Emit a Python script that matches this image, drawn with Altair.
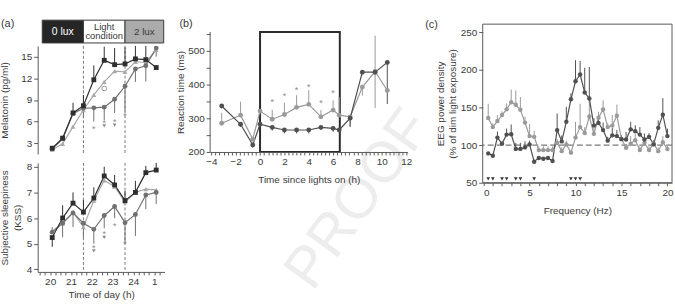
import altair as alt
import pandas as pd

FONT = "Liberation Sans"
INK = "#3a3a3a"
AXIS = "#595959"
MARK = "#8a8a8a"

# ---------------- (a) melatonin and subjective sleepiness ----------------
clock_h = [20.1, 20.6, 21.1, 21.6, 22.1, 22.6, 23.1, 23.6, 24.1, 24.6, 25.1]

mel_dark = [2.3, 3.7, 7.2, 8.2, 11.8, 14.5, 13.9, 14.0, 14.7, 14.6, 13.5]
mel_light = [2.2, 3.6, 7.1, 7.85, 7.9, 8.0, 9.1, 10.9, 13.3, 13.75, 16.2]
mel_dim = [2.1, 2.9, 5.3, 7.6, 9.7, 11.5, 13.0, 12.9, 14.3, 14.2, 16.0]
mel_dark_err = [0, 0.3, 1.4, 1.5, 2.0, 1.9, 2.3, 2.3, 1.8, 1.9, 0]
mel_light_err = [0, 0, 0, -1.3, -1.9, -1.8, -1.9, -3.5, -1.8, -2.2, -1.2]
mel_dim_err = [0, 0, 0, 0, 0, 0, 0, 0, 0, 0, 0]

kss_dark = [5.24, 6.0, 6.58, 6.23, 6.78, 7.64, 7.29, 6.68, 7.0, 7.77, 7.87]
kss_light = [5.45, 5.8, 6.2, 5.8, 5.56, 6.1, 6.45, 5.82, 6.14, 6.9, 7.0]
kss_dim = [5.5, 5.78, 6.23, 5.65, 6.68, 7.47, 7.22, 6.62, 7.0, 7.13, 7.1]
kss_dark_err = [-0.36, 0.5, 0.42, 0.47, 0.42, 0.36, 0.39, 0.38, 0.45, 0.26, 0.28]
kss_light_err = [0.2, -0.55, -0.55, -0.56, -0.56, -0.5, -0.45, -0.82, -0.84, -0.55, -0.45]
kss_dim_err = [0, 0, 0, 0, 0, 0, 0, 0, 0, 0, 0]

mel_star_h = [22.1, 22.6, 23.1, 23.6]
mel_star_v = [5.3, 6.1, 6.2, 7.0]
mel_tri_h = [22.6, 23.1]
mel_tri_v = [5.4, 5.5]
mel_ring_h = [22.6]
mel_ring_v = [10.6]
kss_star_h = [22.1, 22.6, 23.1, 23.6]
kss_star_v = [4.92, 5.47, 5.77, 5.05]
kss_tri_h = [22.1, 22.6]
kss_tri_v = [4.72, 5.25]

phase_start = [19.62, 21.6, 23.6]
phase_end = [21.6, 23.6, 25.46]
phase_label = ["0 lux", "Light\ncondition", "2 lux"]
phase_fill = ["#262626", "#ffffff", "#ababab"]
phase_ink = ["#ffffff", "#3a3a3a", "#3a3a3a"]
phase_size = [10.5, 9.5, 10]
light_switch_h = [21.6, 23.6]

# ---------------- (b) reaction time ----------------
rt_h = [-3.15, -1.6, -0.6, 0.0, 1.0, 2.0, 3.0, 4.0, 5.0, 6.0, 6.5, 7.4, 8.4, 9.45, 10.45]
rt_dark = [336, 282, 221, 282, 273, 265, 265, 265, 273, 270, 265, 300, 436, 436, 465]
rt_light = [285, 309, 238, 321, 297, 311, 332, 341, 304, 324, 309, 304, 392, 438, 382]
rt_dark_lo = [0, -8, -8, 0, -10, -10, -10, -10, -8, -10, 0, -25, 0, 0, -123]
rt_dark_hi = [0, 0, 0, 0, 0, 0, 0, 0, 0, 0, 0, 0, 0, 0, 0]
rt_light_lo = [0, 0, 0, 0, 0, 0, 0, 0, 0, 0, 0, -30, -25, -108, 0]
rt_light_hi = [31, 40, 0, 0, 28, 35, 36, 42, 20, 29, 54, 0, 0, 106, 0]
rt_star_h = [1, 2, 3, 4, 5, 6]
rt_star_v = [353, 371, 389, 399, 352, 381]
lights_on_box = {"x": [0.0], "x2": [6.55], "y": [200], "y2": [555]}
rt_axis_span = {"x": [-4.1], "y": [200], "y2": [555]}

# ---------------- (c) EEG power density ----------------
freq_hz = [0.5, 1.0, 1.5, 2.0, 2.5, 3.0, 3.5, 4.0, 4.5, 5.0,
           5.5, 6.0, 6.5, 7.0, 7.5, 8.0, 8.5, 9.0, 9.5, 10.0,
           10.5, 11.0, 11.5, 12.0, 12.5, 13.0, 13.5, 14.0, 14.5, 15.0,
           15.5, 16.0, 16.5, 17.0, 17.5, 18.0, 18.5, 19.0, 19.5, 20.0]
eeg_dark = [89, 86, 110, 102, 114, 114.5, 95, 95, 97, 101,
            78, 83, 82, 83, 79, 120, 105, 131, 161, 185,
            194, 170, 162, 126, 129.5, 120, 106, 113, 112, 108,
            107.5, 121, 118.5, 114, 107.5, 111, 101, 123, 140.5, 112]
eeg_light = [136, 124, 132, 140, 147.6, 157, 153.7, 147, 130, 112,
             111, 93.4, 93.4, 93.4, 93.4, 103, 92, 101, 90, 110,
             124, 116, 138, 115, 136.5, 147.6, 124, 126, 139, 108,
             96.5, 102, 106.6, 93.4, 103, 93.4, 102, 92, 104, 94.7]
eeg_dark_err = [0, 0, 8, 0, 8, 13, 8, 8, 8, 5,
                0, 0, 0, 0, 0, 22, 8, 20, 8, 28,
                18, 33, 42, 10, 8, 10, 5, 10, 8, 5,
                10, 10, 8, 10, 8, 5, 5, 10, 22, 10]
eeg_light_err = [19, 5, 8, 5, 8, 17, 19, 17, 8, 16,
                 8, 5, 5, 5, 5, 5, 5, 5, 0, 21,
                 31, 8, 28, 8, 8, 12, 5, 14, 15, 5,
                 5, 10, 8, 5, 5, 5, 5, 5, 8, 5]
eeg_sig_hz = [0.5, 1.0, 2.0, 2.5, 3.5, 4.0, 5.5, 9.5, 10.0, 10.5]
eeg_sig_v = [55] * len(eeg_sig_hz)
eeg_reference = [100]
eeg_frame = {"x": [-0.1], "x2": [20.5], "y": [50], "y2": [261]}


def series_frame(xs, series):
    """series: list of (name, values, colour, shape)."""
    rows = []
    for name, vals, col, shp in series:
        for xv, yv in zip(xs, vals):
            rows.append(dict(x=xv, y=yv, s=name, col=col, shp=shp))
    return pd.DataFrame(rows)


def error_frame(xs, bars):
    """bars: list of (values, lower offsets, upper offsets, colour)."""
    rows = []
    for vals, lo, hi, col in bars:
        for xv, yv, a, b in zip(xs, vals, lo, hi):
            if a != 0 or b != 0:
                rows.append(dict(x=xv, y0=yv + a, y1=yv + b, col=col))
    return pd.DataFrame(rows)


def split(errs):
    lo = [min(e, 0) for e in errs]
    hi = [max(e, 0) for e in errs]
    return lo, hi


def plot_layers(pts, errs, X, Y, Y0, size, width=1.2):
    c = alt.Color("col:N", scale=None)
    rules = alt.Chart(errs).mark_rule(strokeWidth=1).encode(x=X, y=Y0, y2="y1:Q", color=c)
    lines = alt.Chart(pts).mark_line(strokeWidth=width).encode(x=X, y=Y, color=c, detail="s:N")
    dots = alt.Chart(pts).mark_point(filled=True, opacity=1, size=size).encode(
        x=X, y=Y, color=c, shape=alt.Shape("shp:N", scale=None))
    return [rules, lines, dots]


def stars(xs, vs, X, Y, size=9):
    df = pd.DataFrame({"x": xs, "y": vs, "t": ["*"] * len(xs)})
    return alt.Chart(df).mark_text(font=FONT, fontSize=size, color=MARK, dy=2).encode(x=X, y=Y, text="t:N")


def tris(xs, vs, X, Y, colour=MARK, size=14):
    df = pd.DataFrame({"x": xs, "y": vs})
    return alt.Chart(df).mark_point(shape="triangle-down", filled=True, opacity=1,
                                    size=size, color=colour).encode(x=X, y=Y)


def panel_tag(text, dx, dy):
    df = pd.DataFrame({"t": [text]})
    return alt.Chart(df).mark_text(font=FONT, fontSize=11, color=INK, align="left").encode(
        x=alt.value(dx), y=alt.value(dy), text="t:N")


C_DARK, C_LIGHT, C_DIM = "#2e2e2e", "#707070", "#a8a8a8"

# ---- (a) ----
xa_scale = alt.Scale(domain=[19.4, 25.5], nice=False, zero=False)
quarter_ticks = [k / 4 for k in range(78, 102)]
XA_hidden = alt.X("x:Q", scale=xa_scale, axis=None)
XA_axis = alt.X("x:Q", scale=xa_scale, axis=alt.Axis(
    values=quarter_ticks, tickSize=3,
    labelExpr="datum.value % 1 == 0 ? (datum.value > 24 ? datum.value - 24 : datum.value) + '' : ''",
    title="Time of day (h)", titleX=64, titleY=26, titleBaseline="alphabetic",
    titleAlign="center", titleAngle=0))

phase_df = pd.DataFrame({"x": phase_start, "x2": phase_end,
                         "mid": [(a + b) / 2 for a, b in zip(phase_start, phase_end)],
                         "label": phase_label, "fill": phase_fill, "ink": phase_ink,
                         "fs": phase_size,
                         "lines": [lab.count("\n") + 1 for lab in phase_label]})
phase_rect = alt.Chart(phase_df).mark_rect(stroke=INK, strokeWidth=1).encode(
    x=XA_hidden, x2="x2:Q", y=alt.value(0), y2=alt.value(23),
    fill=alt.Fill("fill:N", scale=None))
phase_enc = dict(x=alt.X("mid:Q", scale=xa_scale, axis=None), text="label:N",
                 color=alt.Color("ink:N", scale=None), size=alt.Size("fs:Q", scale=None))
phase_text_one = alt.Chart(phase_df).transform_filter("datum.lines == 1").mark_text(
    font=FONT).encode(y=alt.value(11.5), **phase_enc)
phase_text_two = alt.Chart(phase_df).transform_filter("datum.lines == 2").mark_text(
    font=FONT, lineBreak="\n", lineHeight=10).encode(y=alt.value(6.5), **phase_enc)
phase_bar = alt.layer(phase_rect, phase_text_one, phase_text_two,
                      panel_tag("(a)", -37, 4)).properties(width=128, height=23)

switch_df = pd.DataFrame({"x": light_switch_h})


def switch_rules(X):
    return alt.Chart(switch_df).mark_rule(color="#7a7a7a", strokeDash=[3, 2], strokeWidth=1).encode(x=X)


mel_scale = alt.Scale(domain=[1.5, 16.5], nice=False, zero=False)
mel_axis = alt.Axis(values=[3, 6, 9, 12, 15], title="Melatonin (pg/ml)", titleX=-30, titleY=54.5,
                    titleAngle=270, titleAlign="center", titleBaseline="alphabetic")
Y_mel = alt.Y("y:Q", scale=mel_scale, axis=mel_axis)
Y0_mel = alt.Y("y0:Q", scale=mel_scale, axis=mel_axis)
mel_pts = series_frame(clock_h, [("2 lux", mel_dim, C_DIM, "triangle-up"),
                                 ("light", mel_light, C_LIGHT, "circle"),
                                 ("0 lux", mel_dark, C_DARK, "square")])
mel_err = error_frame(clock_h, [(mel_dim, *split(mel_dim_err), C_DIM),
                                (mel_light, *split(mel_light_err), C_LIGHT),
                                (mel_dark, *split(mel_dark_err), C_DARK)])
ring_df = pd.DataFrame({"x": mel_ring_h, "y": mel_ring_v})
ring = alt.Chart(ring_df).mark_point(shape="circle", filled=False, size=22, color="#6a6a6a",
                                     strokeWidth=1).encode(x=XA_hidden, y=Y_mel)
melatonin = alt.layer(
    switch_rules(XA_hidden),
    *plot_layers(mel_pts, mel_err, XA_hidden, Y_mel, Y0_mel, 24),
    stars(mel_star_h, mel_star_v, XA_hidden, Y_mel),
    tris(mel_tri_h, mel_tri_v, XA_hidden, Y_mel),
    ring,
).properties(width=128, height=109)

kss_scale = alt.Scale(domain=[3.9, 8.15], nice=False, zero=False)
kss_axis = alt.Axis(values=[4, 5, 6, 7, 8], title=["Subjective sleepiness", "(KSS)"],
                    titleX=-30, titleY=55, titleAngle=270, titleAlign="center",
                    titleBaseline="alphabetic", titleLineHeight=13)
Y_kss = alt.Y("y:Q", scale=kss_scale, axis=kss_axis)
Y0_kss = alt.Y("y0:Q", scale=kss_scale, axis=kss_axis)
kss_pts = series_frame(clock_h, [("2 lux", kss_dim, C_DIM, "triangle-up"),
                                 ("light", kss_light, C_LIGHT, "circle"),
                                 ("0 lux", kss_dark, C_DARK, "square")])
kss_err = error_frame(clock_h, [(kss_dim, *split(kss_dim_err), C_DIM),
                                (kss_light, *split(kss_light_err), C_LIGHT),
                                (kss_dark, *split(kss_dark_err), C_DARK)])
sleepiness = alt.layer(
    switch_rules(XA_axis),
    *plot_layers(kss_pts, kss_err, XA_axis, Y_kss, Y0_kss, 24),
    stars(kss_star_h, kss_star_v, XA_axis, Y_kss),
    tris(kss_tri_h, kss_tri_v, XA_axis, Y_kss),
).properties(width=128, height=110)

panel_a = alt.vconcat(
    alt.vconcat(phase_bar, melatonin, spacing=1).resolve_scale(x="independent", y="independent"),
    sleepiness, spacing=6,
).resolve_scale(x="independent", y="independent")

# ---- (b) ----
B_DARK, B_LIGHT = "#505050", "#9a9a9a"
xb_scale = alt.Scale(domain=[-4.1, 12.1], nice=False, zero=False)
third_ticks = [round(-4 + k / 3, 4) for k in range(0, 49)]
XB = alt.X("x:Q", scale=xb_scale, axis=alt.Axis(
    values=third_ticks, tickSize=3, zindex=1,
    labelExpr="abs(datum.value - round(datum.value)) < 0.001 && round(datum.value) % 2 == 0 ? format(round(datum.value), 'd') : ''",
    title="Time since lights on (h)", titleX=99.5, titleY=31, titleBaseline="alphabetic",
    titleAlign="center", titleAngle=0))
yb_scale = alt.Scale(domain=[200, 590], nice=False, zero=False)
yb_axis = alt.Axis(values=[200, 250, 300, 350, 400, 450, 500, 550], domain=False, zindex=1,
                   labelExpr="datum.value % 100 == 0 && datum.value <= 500 ? datum.label : ''",
                   title="Reaction time (ms)", titleX=-27, titleY=72.5, titleAngle=270,
                   titleAlign="center", titleBaseline="alphabetic")
YB = alt.Y("y:Q", scale=yb_scale, axis=yb_axis)
YB0 = alt.Y("y0:Q", scale=yb_scale, axis=yb_axis)
rt_pts = series_frame(rt_h, [("light", rt_light, B_LIGHT, "circle"),
                             ("dark", rt_dark, B_DARK, "circle")])
rt_err = error_frame(rt_h, [(rt_light, rt_light_lo, rt_light_hi, B_LIGHT),
                            (rt_dark, rt_dark_lo, rt_dark_hi, B_DARK)])
rt_spine = alt.Chart(pd.DataFrame(rt_axis_span)).mark_rule(color=AXIS, strokeWidth=1).encode(
    x=XB, y=YB, y2="y2:Q")
box = alt.Chart(pd.DataFrame(lights_on_box)).mark_rect(
    fillOpacity=0, stroke="#2b2b2b", strokeWidth=2).encode(
    x=XB, x2="x2:Q", y=YB, y2="y2:Q")
# faint diagonal "PROOF" stamp behind the middle panel
watermark = alt.Chart(pd.DataFrame({"t": ["PROOF"]})).mark_text(
    font=FONT, fontSize=58, color="#ededed", angle=306).encode(
    x=alt.value(150), y=alt.value(181), text="t:N")
reaction = alt.layer(
    watermark,
    rt_spine,
    box,
    *plot_layers(rt_pts, rt_err, XB, YB, YB0, 24),
    stars(rt_star_h, rt_star_v, XB, YB),
    panel_tag("(b)", -31, 4),
).properties(width=199, height=133)

# ---- (c) ----
xc_scale = alt.Scale(domain=[-0.1, 20.5], nice=False, zero=False)
XC = alt.X("x:Q", scale=xc_scale, axis=alt.Axis(
    values=list(range(0, 21)), tickSize=3,
    labelExpr="datum.value % 5 == 0 ? datum.label : ''",
    title="Frequency (Hz)", titleX=95.5, titleY=31, titleBaseline="alphabetic",
    titleAlign="center", titleAngle=0))
yc_scale = alt.Scale(domain=[50, 266.3], nice=False, zero=False)
yc_axis = alt.Axis(values=[50, 100, 150, 200, 250], domain=False,
                   title=["EEG power density", "(% of dim light exposure)"],
                   titleX=-40, titleY=84, titleAngle=270, titleAlign="center",
                   titleBaseline="alphabetic", titleLineHeight=13)
YC = alt.Y("y:Q", scale=yc_scale, axis=yc_axis)
YC0 = alt.Y("y0:Q", scale=yc_scale, axis=yc_axis)
eeg_pts = series_frame(freq_hz, [("light", eeg_light, B_LIGHT, "circle"),
                                 ("dark", eeg_dark, B_DARK, "circle")])
eeg_err = error_frame(freq_hz, [(eeg_light, [0] * 40, eeg_light_err, B_LIGHT),
                                (eeg_dark, [0] * 40, eeg_dark_err, B_DARK)])
frame = alt.Chart(pd.DataFrame(eeg_frame)).mark_rect(
    fillOpacity=0, stroke=AXIS, strokeWidth=1).encode(x=XC, x2="x2:Q", y=YC, y2="y2:Q")
ref_line = alt.Chart(pd.DataFrame({"y": eeg_reference})).mark_rule(
    color="#7a7a7a", strokeDash=[6, 3], strokeWidth=1.2).encode(y=YC)
eeg = alt.layer(
    frame,
    ref_line,
    *plot_layers(eeg_pts, eeg_err, XC, YC, YC0, 20),
    tris(eeg_sig_hz, eeg_sig_v, XC, YC, colour="#333333", size=14),
    panel_tag("(c)", -58, 5),
).properties(width=191, height=164)

chart = alt.hconcat(
    alt.hconcat(panel_a, reaction, spacing=11).resolve_scale(x="independent", y="independent"),
    eeg, spacing=-18,
    padding={"left": 0, "top": 17, "right": 2, "bottom": 0},
    background="white",
).resolve_scale(x="independent", y="independent").configure_view(
    stroke=None
).configure_axis(
    domainColor=AXIS, tickColor=AXIS, labelColor=INK, titleColor=INK,
    labelFont=FONT, titleFont=FONT, labelFontSize=10, titleFontSize=10,
    titleFontWeight="normal", grid=False, tickSize=4, labelPadding=2,
    domainWidth=1, tickWidth=1,
)

chart.save("out.html", embed_options={"renderer": "svg", "actions": False})
